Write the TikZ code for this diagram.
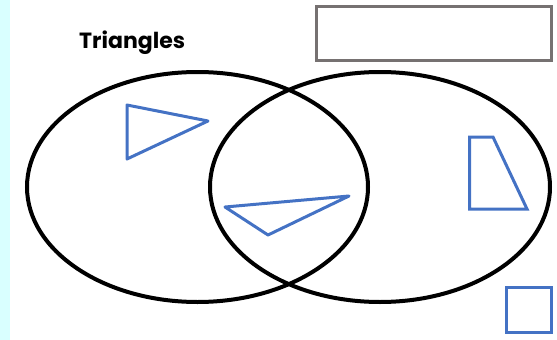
\documentclass[tikz,border=0pt]{standalone}
\usepackage{fontspec}
\setmainfont{Poppins}
\definecolor{cyanstrip}{HTML}{D9FFFF}
\definecolor{shapeblue}{HTML}{4472C4}
\definecolor{boxgray}{HTML}{767171}
\begin{document}
\begin{tikzpicture}[x=1pt,y=-1pt,
  venn/.style={line width=4pt,black},
  blueshape/.style={line width=3pt,shapeblue,line join=round},
  graybox/.style={line width=3pt,boxgray}]
\useasboundingbox (0,0) rectangle (557,340);
\fill[cyanstrip] (0,0) rectangle (10,340);
\node[anchor=base west,inner sep=0pt,font=\bfseries\fontsize{22}{26}\selectfont] (title) at (79,48) {Triangles};
\draw[graybox] (316,6.5) rectangle (551.5,60);
\draw[venn] (197.5,187) ellipse [x radius=170.5,y radius=115];
\draw[venn] (380,187) ellipse [x radius=170,y radius=115];
\draw[blueshape] (127,105) -- (208,121) -- (127,159) -- cycle;
\draw[blueshape] (225,207) -- (349,196) -- (268,235) -- cycle;
\draw[blueshape,line join=miter] (469.5,137) -- (493,137) -- (527,209) -- (469.5,209) -- cycle;
\draw[blueshape,line join=miter] (506.5,287.5) rectangle (551,332);
\end{tikzpicture}
\end{document}
